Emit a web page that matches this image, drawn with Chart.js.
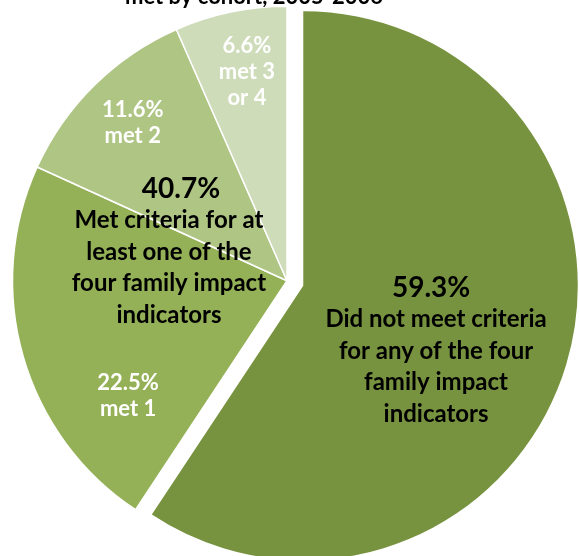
<!DOCTYPE html>
<html>
<head>
<meta charset="utf-8">
<script src="https://cdn.jsdelivr.net/npm/chart.js@4.4.1/dist/chart.umd.min.js"></script>
<style>
  html, body { margin: 0; padding: 0; background: #fff; overflow: hidden; }
  body { width: 579px; height: 556px; position: relative; }
  #wrap { position: absolute; left: 0; top: 0; width: 579px; height: 556px; }
</style>
</head>
<body>
<div id="wrap"><canvas id="pieChart"></canvas></div>
<script>
// chart data
var titleText = 'met by cohort, 2005-2006';
var categories = ['Did not meet criteria for any of the four family impact indicators', 'met 1', 'met 2', 'met 3 or 4'];
var shares = [59.3, 22.5, 11.6, 6.6];
var sliceColors = ['#78933F', '#94B157', '#AFC584', '#CFDCBA'];
var sliceLines = [
  ['Did not meet criteria', 'for any of the four', 'family impact', 'indicators'],
  ['met 1'],
  ['met 2'],
  ['met 3', 'or 4']
];
var groupLines = ['Met criteria for at', 'least one of the', 'four family impact', 'indicators'];

var groupShare = shares[1] + shares[2] + shares[3];

// how far the big slice is pulled out
var pullOut = 17;

// where each text block sits, as fractions of the radius from the pie centre
var textSpots = [
  { dx: 0.543, dy: 0.060, color: '#000', big: true, pctShift: -5 },
  { dx: -0.579, dy: 0.399, color: '#fff' },
  { dx: -0.562, dy: -0.596, color: '#fff' },
  { dx: -0.146, dy: -0.830, color: '#fff' }
];
var groupSpot = { dx: -0.430, dy: -0.301, pctShift: 12 };

var FONT = 'Lato, "Open Sans", sans-serif';

function drawBlock(ctx, x, y, pct, lines, big, color, pctShift) {
  ctx.fillStyle = color;
  ctx.textAlign = 'center';
  ctx.textBaseline = 'alphabetic';
  if (big) {
    ctx.font = 'bold 28px ' + FONT;
    ctx.fillText(pct, x + (pctShift || 0), y);
    ctx.font = 'bold 24px ' + FONT;
    for (var i = 0; i < lines.length; i++) {
      ctx.fillText(lines[i], x, y + 30 + i * 31.5);
    }
  } else {
    ctx.font = 'bold 22px ' + FONT;
    ctx.fillText(pct, x, y);
    for (var j = 0; j < lines.length; j++) {
      ctx.fillText(lines[j], x, y + 26 * (j + 1));
    }
  }
}

// pull the first slice away from the centre without growing it
var explode = {
  id: 'explode',
  beforeDatasetsDraw: function(chart) {
    var arc = chart.getDatasetMeta(0).data[0];
    if (!arc || arc._pulled) return;
    var origDraw = arc.draw;
    arc.draw = function(ctx, area) {
      var h = (this.startAngle + this.endAngle) / 2;
      ctx.save();
      ctx.translate(Math.cos(h) * pullOut, Math.sin(h) * pullOut);
      origDraw.call(this, ctx, area);
      ctx.restore();
    };
    arc._pulled = true;
  }
};

var pieText = {
  id: 'pieText',
  afterDatasetsDraw: function(chart) {
    var ctx = chart.ctx;
    var arcs = chart.getDatasetMeta(0).data;
    ctx.save();
    for (var i = 0; i < arcs.length; i++) {
      var a = arcs[i];
      var r = a.outerRadius;
      var s = textSpots[i];
      drawBlock(ctx, a.x + s.dx * r, a.y + s.dy * r, shares[i].toFixed(1) + '%', sliceLines[i], s.big, s.color, s.pctShift);
    }
    var c = arcs[0];
    drawBlock(ctx, c.x + groupSpot.dx * c.outerRadius, c.y + groupSpot.dy * c.outerRadius,
      groupShare.toFixed(1) + '%', groupLines, true, '#000', groupSpot.pctShift);

    // title, mostly cut off by the top edge
    ctx.font = 'bold 22px ' + FONT;
    ctx.fillStyle = '#000';
    ctx.textAlign = 'center';
    ctx.fillText(titleText, 254, 4);
    ctx.restore();
  }
};

var ctx = document.getElementById('pieChart');

var pieChart = new Chart(ctx, {
  type: 'pie',
  data: {
    labels: categories,
    datasets: [{
      data: shares,
      backgroundColor: sliceColors,
      borderColor: '#ffffff',
      borderWidth: [0, 1.5, 1.5, 1.5]
    }]
  },
  options: {
    responsive: true,
    maintainAspectRatio: false,
    animation: false,
    layout: { padding: { top: 5.5, bottom: 0, left: 0, right: 5 } },
    plugins: {
      legend: { display: false },
      title: { display: false },
      tooltip: { enabled: false }
    }
  },
  plugins: [explode, pieText]
});
</script>
</body>
</html>
